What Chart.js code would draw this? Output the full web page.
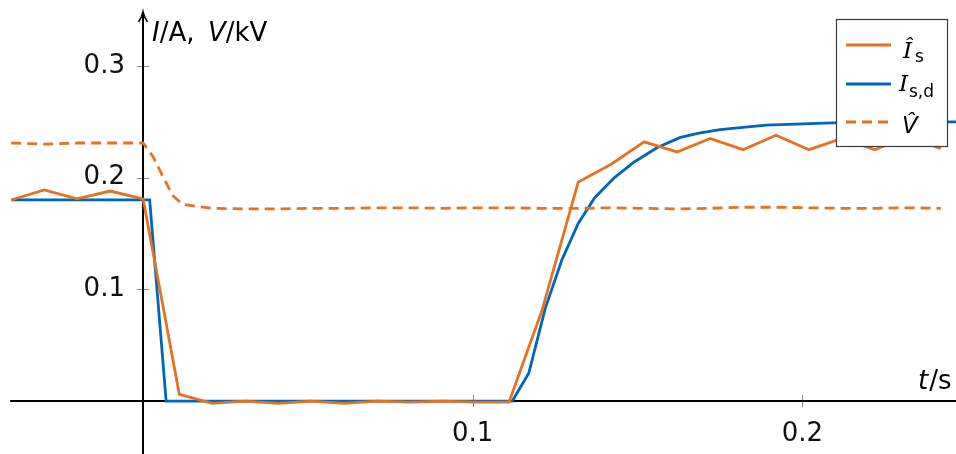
<!DOCTYPE html>
<html>
<head>
<meta charset="utf-8">
<script src="https://cdn.jsdelivr.net/npm/chart.js@4/dist/chart.umd.min.js"></script>
<style>
  html, body { margin: 0; padding: 0; background: #fff; overflow: hidden; }
  #wrap { width: 956px; height: 454px; position: relative; }
</style>
</head>
<body>
<div id="wrap"><canvas id="c" width="956" height="454"></canvas></div>
<script>
// Sampled current estimate Î_s (A) and its sample times t (s)
const currentEstT = [-0.04, -0.03, -0.02, -0.01, 0.000, 0.011, 0.021, 0.031, 0.041, 0.051,
                     0.061, 0.071, 0.081, 0.091, 0.101, 0.111, 0.121, 0.132, 0.142, 0.152,
                     0.162, 0.172, 0.182, 0.192, 0.202, 0.212, 0.222, 0.232, 0.242];
const currentEst  = [0.180, 0.189, 0.181, 0.188, 0.181, 0.006, -0.002, 0.000, -0.002, 0.000,
                     -0.002, 0.000, -0.001, 0.000, -0.001, -0.001, 0.081, 0.196, 0.212, 0.232,
                     0.223, 0.235, 0.225, 0.238, 0.225, 0.235, 0.225, 0.237, 0.226];

// Demanded current I_s,d (A)
const currentDemT = [-0.04, 0.002, 0.007, 0.112, 0.117, 0.122, 0.127, 0.132, 0.137, 0.143,
                     0.149, 0.156, 0.163, 0.169, 0.175, 0.189, 0.209, 0.247];
const currentDem  = [0.180, 0.180, 0.000, 0.000, 0.025, 0.083, 0.126, 0.159, 0.182, 0.200,
                     0.214, 0.227, 0.236, 0.240, 0.243, 0.247, 0.249, 0.250];

// Voltage estimate V̂ (kV)
const voltageEstT = [-0.04, -0.03, -0.02, -0.01, 0.000, 0.003, 0.006, 0.009, 0.012, 0.021,
                     0.031, 0.041, 0.051, 0.061, 0.071, 0.081, 0.091, 0.101, 0.111, 0.121,
                     0.132, 0.142, 0.152, 0.162, 0.172, 0.182, 0.192, 0.202, 0.212, 0.222,
                     0.232, 0.242];
const voltageEst  = [0.231, 0.230, 0.231, 0.231, 0.231, 0.219, 0.201, 0.184, 0.176, 0.1725,
                     0.172, 0.172, 0.1725, 0.1725, 0.173, 0.173, 0.1725, 0.173, 0.173, 0.1725,
                     0.1725, 0.173, 0.1725, 0.172, 0.1725, 0.1735, 0.1735, 0.173, 0.1725, 0.1725,
                     0.173, 0.1725];

// Axis ticks
const xTickValues = [0.1, 0.2];
const yTickValues = [0.1, 0.2, 0.3];

const ORANGE = '#E37222';
const BLUE = '#0065BD';
const FONT = '"DejaVu Sans", "Liberation Sans", sans-serif';

const toPoints = (ts, vs) => ts.map((t, i) => ({ x: t, y: vs[i] }));

// Scales drawn across the chart area: they take no room in the layout
const noRoom = (axis) => {
  axis.width = axis.isHorizontal() ? axis.width : 0;
  axis.height = axis.isHorizontal() ? 0 : axis.height;
  axis.paddingTop = axis.paddingBottom = axis.paddingLeft = axis.paddingRight = 0;
};

// Axis lines through the origin, tick marks and the arrow on the vertical axis
const originAxes = {
  id: 'originAxes',
  beforeDatasetsDraw(chart) {
    const { ctx, scales: { x, y } } = chart;
    const x0 = Math.round(x.getPixelForValue(0));
    const y0 = Math.round(y.getPixelForValue(0));
    ctx.save();
    ctx.strokeStyle = '#8a8a8a';
    ctx.lineWidth = 1;
    ctx.beginPath();
    yTickValues.forEach(v => {
      const py = Math.round(y.getPixelForValue(v)) + 0.5;
      ctx.moveTo(x0 - 6, py); ctx.lineTo(x0 + 6, py);
    });
    xTickValues.forEach(v => {
      const px = Math.round(x.getPixelForValue(v)) + 0.5;
      ctx.moveTo(px, y0 - 6); ctx.lineTo(px, y0 + 6);
    });
    ctx.stroke();

    ctx.strokeStyle = '#000';
    ctx.lineWidth = 2;
    ctx.beginPath();
    ctx.moveTo(x.getPixelForValue(-0.0403), y0);
    ctx.lineTo(chart.width, y0);
    ctx.moveTo(x0, chart.height);
    ctx.lineTo(x0, 13);
    ctx.stroke();

    ctx.lineWidth = 1.6;
    ctx.beginPath();
    ctx.moveTo(x0 - 4.5, 22);
    ctx.quadraticCurveTo(x0 - 1, 17, x0, 12);
    ctx.quadraticCurveTo(x0 + 1, 17, x0 + 4.5, 22);
    ctx.stroke();
    ctx.restore();
  },
  afterDraw(chart) {
    const { ctx } = chart;
    ctx.save();
    ctx.fillStyle = '#000';
    ctx.textBaseline = 'alphabetic';
    // vertical axis title: I/A, V/kV
    const parts = [
      { t: 'I', it: true, x: 152 },
      { t: '/A,', it: false },
      { t: 'V', it: true, x: 208 },
      { t: '/kV', it: false }
    ];
    let cx = 0;
    parts.forEach(p => {
      ctx.font = (p.it ? 'italic ' : '') + '26px ' + FONT;
      if (p.x !== undefined) cx = p.x;
      ctx.fillText(p.t, cx, 41);
      cx += ctx.measureText(p.t).width;
    });
    // horizontal axis title: t/s
    ctx.font = 'italic 26px ' + FONT;
    ctx.fillText('t', 918, 389);
    const w = ctx.measureText('t').width;
    ctx.font = '26px ' + FONT;
    ctx.fillText('/s', 918 + w + 1, 389);

    // legend
    const bx = 836.5, by = 19.5, bw = 111, bh = 127;
    ctx.fillStyle = '#fff';
    ctx.fillRect(bx, by, bw, bh);
    ctx.strokeStyle = '#3a3a3a';
    ctx.lineWidth = 1.2;
    ctx.strokeRect(bx, by, bw, bh);

    const entries = [
      { color: ORANGE, dash: [], ly: 45, main: 'Î', sub: 's', mx: 903, base: 58, sx: 915, sbase: 62, serif: true },
      { color: BLUE, dash: [], ly: 84, main: 'I', sub: 's,d', mx: 899, base: 91, sx: 909, sbase: 97, serif: true },
      { color: ORANGE, dash: [10, 6], ly: 122, main: 'V\u0302', sub: '', mx: 902, base: 133, serif: false }
    ];
    entries.forEach(e => {
      ctx.strokeStyle = e.color;
      ctx.lineWidth = 2.8;
      ctx.setLineDash(e.dash);
      ctx.beginPath();
      ctx.moveTo(846, e.ly);
      ctx.lineTo(891, e.ly);
      ctx.stroke();
      ctx.setLineDash([]);
      ctx.fillStyle = '#000';
      ctx.font = 'italic 23px ' + (e.serif ? '"DejaVu Serif", serif' : FONT);
      ctx.fillText(e.main, e.mx, e.base);
      if (e.sub) {
        ctx.font = '17px ' + FONT;
        ctx.fillText(e.sub, e.sx, e.sbase);
      }
    });
    ctx.restore();
  }
};

const lineStyle = (color, dash) => ({
  borderColor: color,
  backgroundColor: color,
  borderWidth: 2.8,
  borderDash: dash,
  pointRadius: 0,
  showLine: true,
  fill: false,
  tension: 0,
  borderJoinStyle: 'miter'
});

new Chart(document.getElementById('c'), {
  type: 'scatter',
  data: {
    datasets: [
      Object.assign({ label: 'V', data: toPoints(voltageEstT, voltageEst) }, lineStyle(ORANGE, [10, 6])),
      Object.assign({ label: 'Is', data: toPoints(currentEstT, currentEst) }, lineStyle(ORANGE, [])),
      Object.assign({ label: 'Isd', data: toPoints(currentDemT, currentDem) }, lineStyle(BLUE, []))
    ]
  },
  options: {
    responsive: false,
    devicePixelRatio: 1,
    animation: false,
    layout: { padding: 0 },
    plugins: { legend: { display: false }, tooltip: { enabled: false } },
    scales: {
      x: {
        type: 'linear',
        min: -0.0434,
        max: 0.2466,
        position: { y: 0 },
        grid: { display: false, drawTicks: false },
        border: { display: false },
        afterFit: noRoom,
        afterBuildTicks: axis => { axis.ticks = xTickValues.map(v => ({ value: v })); },
        ticks: {
          autoSkip: false,
          maxRotation: 0,
          padding: 18,
          color: '#111',
          font: { family: FONT, size: 26 },
          callback: v => v.toFixed(1)
        }
      },
      y: {
        type: 'linear',
        min: -0.0474,
        max: 0.359,
        // tick labels sit a little left of the drawn vertical axis line at t = 0
        position: { x: -0.0055 },
        grid: { display: false, drawTicks: false },
        border: { display: false },
        afterFit: noRoom,
        afterBuildTicks: axis => { axis.ticks = yTickValues.map(v => ({ value: v })); },
        ticks: {
          autoSkip: false,
          padding: 0,
          color: '#111',
          font: { family: FONT, size: 26 },
          callback: v => v.toFixed(1)
        }
      }
    }
  },
  plugins: [originAxes]
});
</script>
</body>
</html>
